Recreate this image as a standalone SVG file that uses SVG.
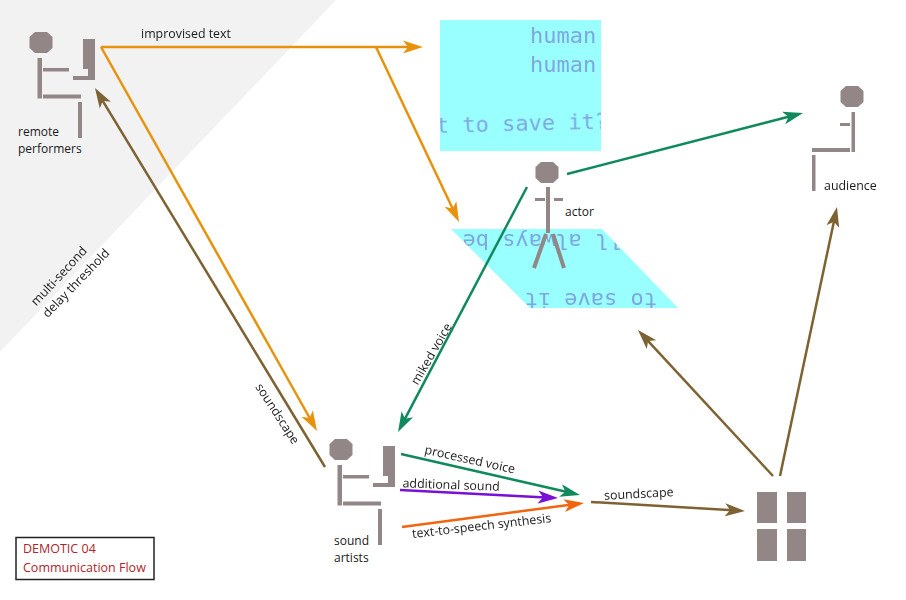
<svg xmlns="http://www.w3.org/2000/svg" width="906" height="600" viewBox="0 0 906 600">
<style>
.g{fill:#928686}
.l{font-family:"Open Sans","Liberation Sans",sans-serif;font-size:12px;fill:#1a1a1a}
.c{fill:none;stroke-width:2.5}
.s{font-family:"DejaVu Sans Mono","Liberation Mono",monospace;font-size:22px;fill:#7fa6e2}
.t{font-family:"Open Sans","Liberation Sans",sans-serif;font-size:12.5px;fill:#b0252c}
</style>
<defs>
<filter id="soft" x="-5%" y="-20%" width="110%" height="140%"><feGaussianBlur stdDeviation="0.5"/></filter>
<path id="h" d="M0-6.500L20 0L0 6.500L5 0z"/>
<marker id="mo" markerUnits="userSpaceOnUse" markerWidth="22" markerHeight="16" refX="8" refY="0" viewBox="0 -8 22 16" orient="auto"><use href="#h" fill="#e8920c"/></marker>
<marker id="mb" markerUnits="userSpaceOnUse" markerWidth="22" markerHeight="16" refX="8" refY="0" viewBox="0 -8 22 16" orient="auto"><use href="#h" fill="#7d6232"/></marker>
<marker id="mg" markerUnits="userSpaceOnUse" markerWidth="22" markerHeight="16" refX="8" refY="0" viewBox="0 -8 22 16" orient="auto"><use href="#h" fill="#108a5c"/></marker>
<marker id="mp" markerUnits="userSpaceOnUse" markerWidth="22" markerHeight="16" refX="8" refY="0" viewBox="0 -8 22 16" orient="auto"><use href="#h" fill="#7a0fd6"/></marker>
<marker id="mr" markerUnits="userSpaceOnUse" markerWidth="22" markerHeight="16" refX="8" refY="0" viewBox="0 -8 22 16" orient="auto"><use href="#h" fill="#f0650f"/></marker>
<path id="head" d="M-6-11H6L11.500-6V5L6 10H-6L-11.500 5V-6z"/>
<g id="seated">
<use href="#head" x="41" y="43"/>
<rect x="37.500" y="58" width="4.500" height="40.500"/>
<rect x="43" y="68" width="26" height="3.500"/>
<path d="M83 39H95V80H73V76H88V69H83z"/>
<rect x="43" y="94.500" width="38" height="4"/>
<rect x="78" y="102" width="4" height="36"/>
</g>
<clipPath id="cr"><rect x="440" y="20" width="161" height="131"/></clipPath>
<clipPath id="cq"><polygon points="451,229 602,229 678,308 530,308"/></clipPath>
</defs>
<rect width="906" height="600" fill="#fff"/>
<polygon points="0,0 336,0 0,352" fill="#f2f2f3"/>

<g id="screen-upper">
<rect x="440" y="20" width="161" height="131" fill="#9ff"/>
<g clip-path="url(#cr)">
<g filter="url(#soft)">
<text class="s" x="530" y="43">human</text>
<text class="s" x="530" y="72">human'</text>
<text class="s" x="436" y="133" transform="rotate(-1.500 436 133)">t to save it?</text>
</g>
</g>
</g>
<g id="screen-lower">
<polygon points="451,229 602,229 678,308 530,308" fill="#9ff"/>
<g clip-path="url(#cq)">
<g filter="url(#soft)">
<text class="s" transform="translate(621.500 234) rotate(180)">ll always be</text>
<text class="s" transform="translate(657 293) rotate(180)">to save it</text>
</g>
</g>
</g>

<g id="remote-performers">
<use href="#seated" class="g"/>
<text class="l" x="18" y="136">remote</text>
<text class="l" x="18" y="153">performers</text>
</g>
<g id="sound-artists">
<use href="#seated" class="g" transform="translate(300 407)"/>
<text class="l" x="334" y="545">sound</text>
<text class="l" x="334" y="562">artists</text>
</g>
<g id="actor" class="g">
<use href="#head" x="547" y="173"/>
<rect x="546" y="187" width="4" height="46"/>
<rect x="535" y="198" width="10" height="3"/>
<rect x="554" y="198" width="9" height="3"/>
<path d="M546 234L534 268M553 234L564 268" fill="none" stroke="#928686" stroke-width="4"/>
<text class="l" x="565" y="216">actor</text>
</g>
<g id="audience">
<g class="g">
<use href="#head" x="852" y="97"/>
<rect x="851.500" y="112" width="3.500" height="40"/>
<rect x="840" y="123" width="10" height="3"/>
<rect x="812" y="148" width="38" height="4"/>
<rect x="812" y="155" width="3.500" height="36"/>
</g>
<text class="l" x="824" y="190" style="font-size:12.400px">audience</text>
</g>
<g id="speakers" class="g">
<rect x="757" y="492" width="20" height="31"/>
<rect x="787" y="492" width="19" height="31"/>
<rect x="757" y="529" width="20" height="32"/>
<rect x="787" y="529" width="19" height="32"/>
</g>

<g id="connectors" class="c">
<path d="M101 47H411" stroke="#e8920c" marker-end="url(#mo)"/>
<path d="M376 47L453.900 211.200" stroke="#e8920c" marker-end="url(#mo)"/>
<path d="M101 47L311.100 420.500" stroke="#e8920c" marker-end="url(#mo)"/>
<path d="M325 467L101.200 98.300" stroke="#7d6232" marker-end="url(#mb)"/>
<path d="M527 187L403.600 421.400" stroke="#108a5c" marker-end="url(#mg)"/>
<path d="M567 174L791.400 116" stroke="#108a5c" marker-end="url(#mg)"/>
<path d="M401 454L568.300 492.300" stroke="#108a5c" marker-end="url(#mg)"/>
<path d="M400 490L546 497.400" stroke="#7a0fd6" marker-end="url(#mp)"/>
<path d="M402 527L572.100 504.600" stroke="#f0650f" marker-end="url(#mr)"/>
<path d="M591 502L733 510.300" stroke="#7d6232" marker-end="url(#mb)"/>
<path d="M773 476L646.100 338.800" stroke="#7d6232" marker-end="url(#mb)"/>
<path d="M780 476L834.500 218.700" stroke="#7d6232" marker-end="url(#mb)"/>
</g>

<g id="labels" class="l" text-anchor="middle" style="font-size:12.400px">
<text x="186" y="38">improvised text</text>
<text transform="translate(435 356) rotate(-60)">miked voice</text>
<text transform="translate(274 416) rotate(57)">soundscape</text>
<text transform="translate(62 279) rotate(-47)">multi-second</text>
<text transform="translate(79 286) rotate(-46)">delay threshold</text>
<text transform="translate(469 463.500) rotate(12.500)">processed voice</text>
<text transform="translate(451 489) rotate(2)">additional sound</text>
<text transform="translate(482 530) rotate(-6.500)">text-to-speech synthesis</text>
<text transform="translate(639 498) rotate(-3)">soundscape</text>
</g>

<g id="title">
<rect x="16" y="537.500" width="138" height="42" fill="#fff" stroke="#222" stroke-width="1.500"/>
<text class="t" x="23" y="553">DEMOTIC 04</text>
<text class="t" x="23" y="572">Communication Flow</text>
</g>
</svg>
